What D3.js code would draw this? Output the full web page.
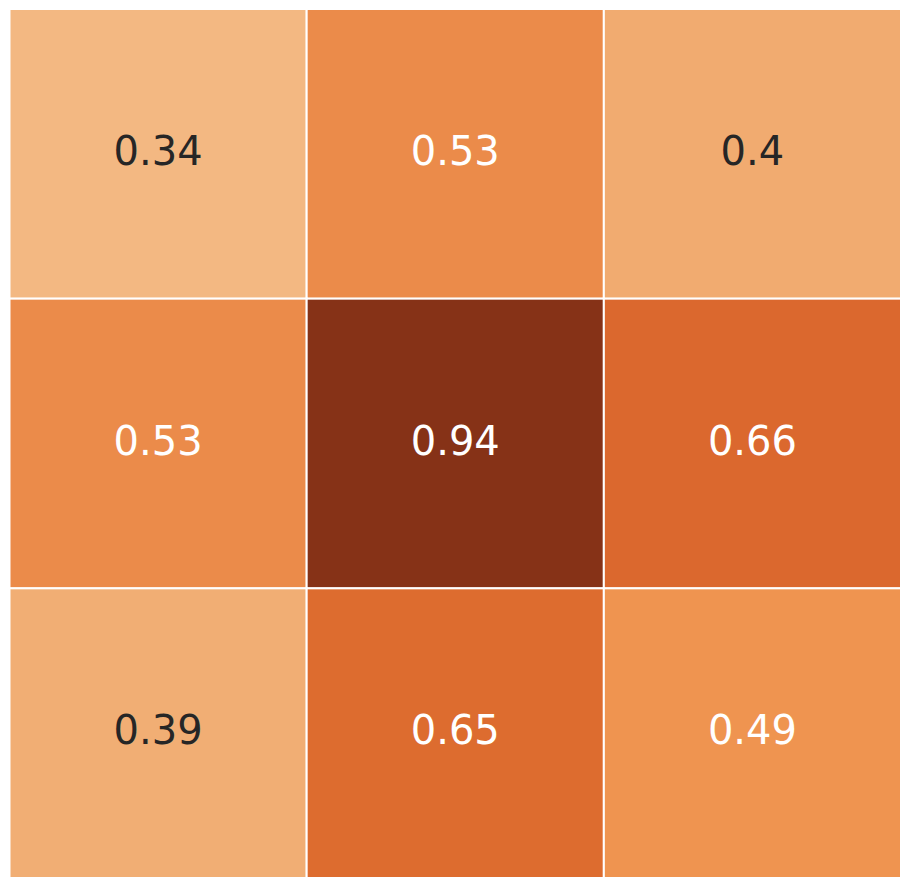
<!DOCTYPE html>
<html>
<head>
<meta charset="utf-8">
<script src="https://cdn.jsdelivr.net/npm/d3@7"></script>
<style>
  body { margin: 0; background: #fff; }
  svg { display: block; }
</style>
</head>
<body>
<svg width="910" height="886"></svg>
<script>
var rows = ["r0", "r1", "r2"];
var cols = ["c0", "c1", "c2"];
var values = [
    [0.34, 0.53, 0.4],
    [0.53, 0.94, 0.66],
    [0.39, 0.65, 0.49]
];
// colour stops
var stopValues = [0.34, 0.39, 0.4, 0.49, 0.53, 0.65, 0.66, 0.94];
var stopColors = ["#f3b882", "#f1ae74", "#f1ab70", "#ef9450", "#eb8b4a", "#dd6c2f", "#db682e", "#863217"];

var svg = d3.select("svg");
var box = {left: 9.5, top: 9, right: 901, bottom: 878};

var xScale = d3.scaleBand().domain(cols).range([box.left, box.right]);
var yScale = d3.scaleBand().domain(rows).range([box.top, box.bottom]);
var color = d3.scaleLinear().domain(stopValues).range(stopColors).clamp(true);

var cells = [];
values.forEach(function(row, i) {
    row.forEach(function(v, j) {
        cells.push({row: rows[i], col: cols[j], value: v});
    });
});

function textColor(c) {
    var rgb = d3.rgb(c);
    var lum = [rgb.r, rgb.g, rgb.b].map(function(x) {
        x = x / 255;
        return x <= 0.03928 ? x / 12.92 : Math.pow((x + 0.055) / 1.055, 2.4);
    });
    var l = 0.2126 * lum[0] + 0.7152 * lum[1] + 0.0722 * lum[2];
    return l > 0.408 ? "#262626" : "#ffffff";
}

svg.append("g").selectAll("rect").data(cells).enter()
    .append("rect")
    .attr("x", function(d) { return xScale(d.col); })
    .attr("y", function(d) { return yScale(d.row); })
    .attr("width", xScale.bandwidth())
    .attr("height", yScale.bandwidth())
    .attr("fill", function(d) { return color(d.value); })
    .attr("stroke", "#ffffff")
    .attr("stroke-width", 2);

svg.append("g").selectAll("text").data(cells).enter()
    .append("text")
    .attr("x", function(d) { return xScale(d.col) + xScale.bandwidth() / 2; })
    .attr("y", function(d) { return yScale(d.row) + yScale.bandwidth() / 2 - 3; })
    .attr("text-anchor", "middle")
    .attr("dominant-baseline", "central")
    .style("font-family", "DejaVu Sans")
    .style("font-size", "40px")
    .attr("fill", function(d) { return textColor(color(d.value)); })
    .text(function(d) { return d.value; });
</script>
</body>
</html>
